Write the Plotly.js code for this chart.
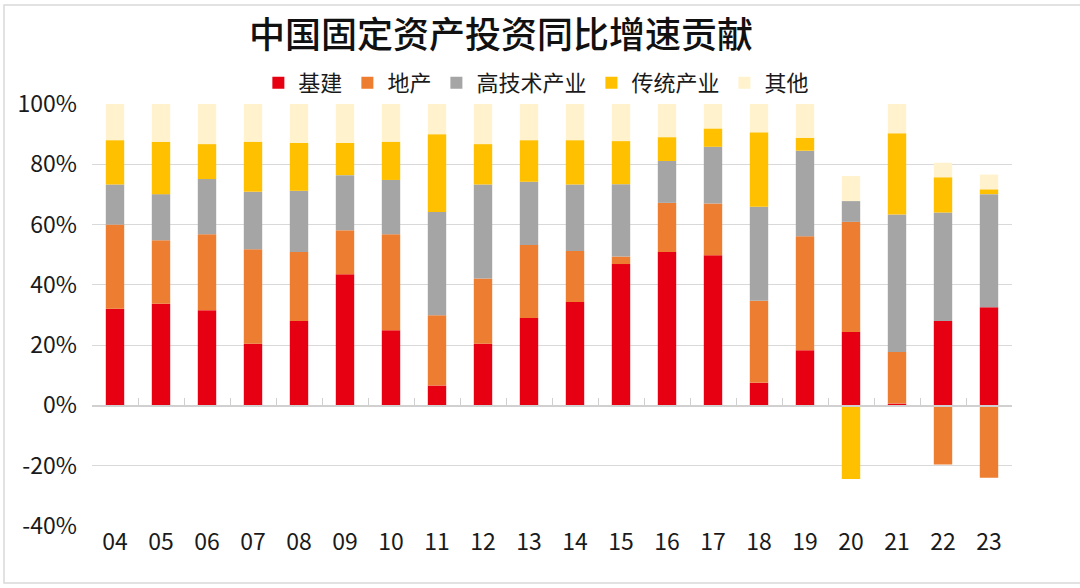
<!DOCTYPE html>
<html>
<head>
<meta charset="utf-8">
<script src="https://cdn.plot.ly/plotly-3.0.1.min.js"></script>
<style>html,body{margin:0;padding:0;background:#fff;}#chart{width:1080px;height:588px;}</style>
</head>
<body>
<div id="chart"></div>
<script>
const categories = ['04','05','06','07','08','09','10','11','12','13','14','15','16','17','18','19','20','21','22','23'];
const infra      = [32.1,33.7,31.6,20.5,28.0,43.5,24.9,6.6,20.5,29.0,34.3,46.9,50.9,49.8,7.5,18.3,24.4,0.6,28.0,32.6];
const property   = [27.9,21.1,25.2,31.3,22.9,14.6,31.9,23.3,21.6,24.2,16.9,2.5,16.3,17.2,27.2,37.8,36.5,17.1,-19.6,-24.0];
const hightech   = [13.3,15.3,18.3,19.1,20.3,18.3,18.0,34.3,31.2,21.0,22.1,24.0,13.9,18.8,31.2,28.4,6.9,45.6,36.0,37.5];
const traditional= [14.7,17.4,11.6,16.6,15.9,10.7,12.7,25.8,13.4,13.8,14.7,14.3,7.9,6.1,24.7,4.3,-24.4,27.0,11.7,1.6];
const others     = [12.0,12.5,13.3,12.5,12.9,12.9,12.5,10.0,13.3,12.0,12.0,12.3,11.0,8.1,9.4,11.2,8.3,9.7,4.8,4.9];
const seriesNames = ['基建','地产','高技术产业','传统产业','其他'];
const seriesColors = ['#E60012','#ED7D31','#A5A5A5','#FFC000','#FFF2CC'];
const yTickVals = [-40,-20,0,20,40,60,80,100];
const yTickText = ['-40%','-20%','0%','20%','40%','60%','80%','100%'];

const font = '"Noto Sans CJK SC", "Noto Sans", sans-serif';
const allSeries = [infra, property, hightech, traditional, others];
const traces = allSeries.map((vals, i) => ({
  type: 'bar',
  x: categories,
  y: vals,
  name: seriesNames[i],
  marker: {color: seriesColors[i], line: {width: 0}},
  hoverinfo: 'x+y+name'
}));
// category boundaries, for the tick marks on the zero line
const boundaries = categories.map((c, i) => i - 0.5).concat([categories.length - 0.5]);

const layout = {
  width: 1080, height: 588,
  paper_bgcolor: '#fff', plot_bgcolor: '#fff',
  margin: {l: 92, r: 68, t: 104, b: 62},
  barmode: 'relative',
  bargap: 0.6,
  font: {family: font, color: '#1a1a1a'},
  title: {text: '中国固定资产投资同比增速贡献', x: 0.464, xanchor: 'center', y: 0.94, yanchor: 'middle',
          font: {family: font, size: 36, color: '#111', weight: 500}},
  showlegend: true,
  legend: {orientation: 'h', x: 0.483, xanchor: 'center', y: 1.0, yanchor: 'bottom',
           font: {family: font, size: 22, color: '#1a1a1a'}, traceorder: 'normal', itemclick: false},
  xaxis: {type: 'category', categoryorder: 'array', categoryarray: categories, range: [-0.5, categories.length - 0.5],
          showgrid: false, showline: false, zeroline: false, ticks: '',
          tickfont: {family: font, size: 23, color: '#1a1a1a'}},
  xaxis2: {overlaying: 'x', anchor: 'free', position: 40/140, type: 'linear',
           range: [-0.5, categories.length - 0.5], tickmode: 'array', tickvals: boundaries,
           ticks: 'inside', ticklen: 7, tickcolor: '#d0d0d0', tickwidth: 1,
           showline: true, linecolor: '#d0d0d0', linewidth: 1.5,
           showticklabels: false, showgrid: false, zeroline: false, layer: 'above traces'},
  yaxis: {range: [-40, 100], tickmode: 'array', tickvals: yTickVals, ticktext: yTickText,
          showgrid: true, gridcolor: '#d9d9d9', gridwidth: 1, zeroline: false, showline: false,
          tickfont: {family: font, size: 23, color: '#1a1a1a'}, ticklabelstandoff: 14},
  shapes: [{type: 'rect', xref: 'paper', yref: 'paper', x0: -88/920, x1: 1062/920, y0: -57/422, y1: 99/422 + 1,
            line: {color: '#d9d9d9', width: 1.5}, fillcolor: 'rgba(0,0,0,0)', layer: 'below'}]
};
Plotly.newPlot('chart', traces.concat([{type:'scatter', x:[0], y:[0], xaxis:'x2', mode:'markers', marker:{opacity:0}, showlegend:false, hoverinfo:'skip'}]), layout, {staticPlot: true});
</script>
</body>
</html>
